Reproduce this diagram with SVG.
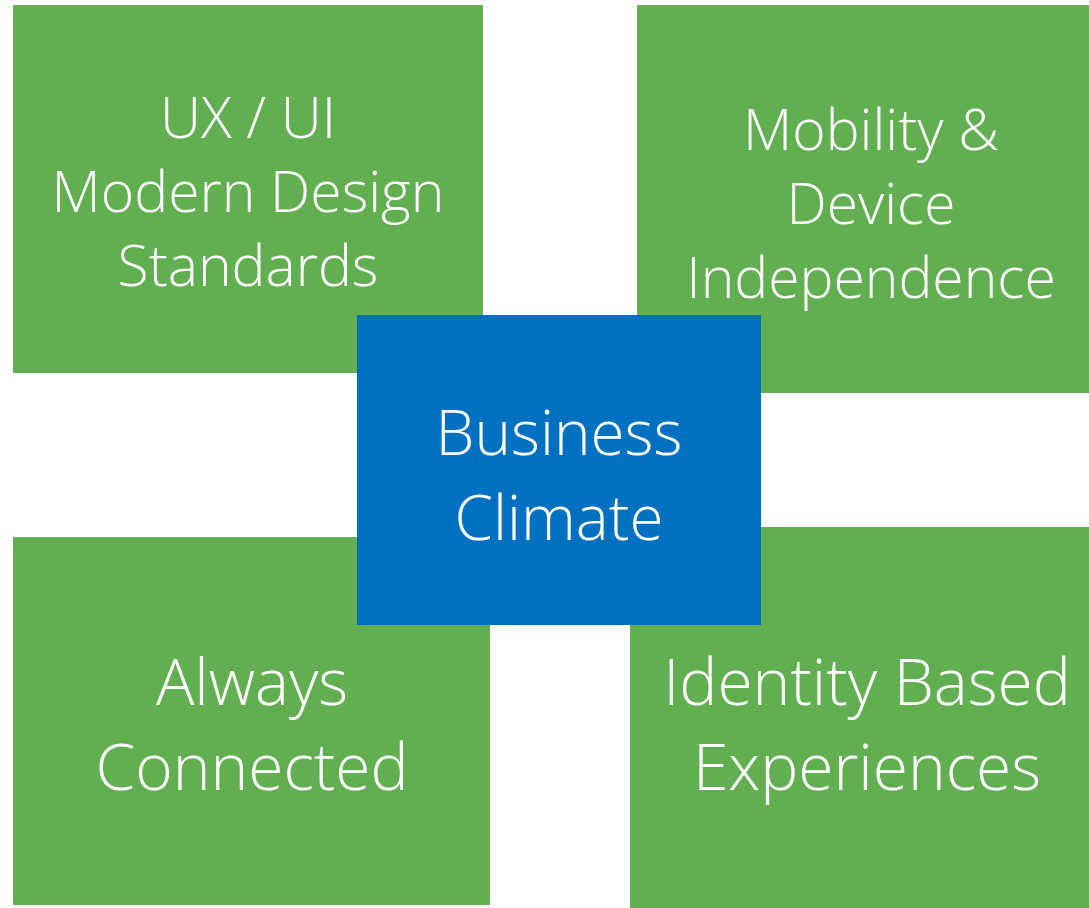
<svg xmlns="http://www.w3.org/2000/svg" width="1089" height="908" viewBox="0 0 1089 908">
<style>
.g{fill:#62AF52}
.b{fill:#0070C0}
text{fill:#fff;font-family:"Open Sans","Liberation Sans",sans-serif;font-weight:300;text-anchor:middle}
.s1{font-size:57px}
.s2{font-size:64px}
.s3{font-size:62px}
</style>
<rect width="1089" height="908" fill="#fff"/>
<g id="ux">
<rect class="g" x="13" y="5" width="470" height="368"/>
<text class="s1"><tspan x="248" y="138">UX / UI</tspan><tspan x="248" y="212">Modern Design</tspan><tspan x="248" y="286">Standards</tspan></text>
</g>
<g id="mobility">
<rect class="g" x="637" y="5" width="452" height="388"/>
<text class="s1"><tspan x="871" y="150">Mobility &amp;</tspan><tspan x="871" y="224">Device</tspan><tspan x="871" y="298">Independence</tspan></text>
</g>
<g id="always">
<rect class="g" x="13" y="537" width="477" height="368"/>
<text class="s2"><tspan x="252" y="705">Always</tspan><tspan x="252" y="790">Connected</tspan></text>
</g>
<g id="identity">
<rect class="g" x="630" y="527" width="459" height="381"/>
<text class="s2"><tspan x="867" y="705">Identity Based</tspan><tspan x="867" y="790">Experiences</tspan></text>
</g>
<g id="business">
<rect class="b" x="357" y="315" width="404" height="310"/>
<text class="s3"><tspan x="559" y="455">Business</tspan><tspan x="559" y="540">Climate</tspan></text>
</g>
<g id="connectors"></g>
</svg>
